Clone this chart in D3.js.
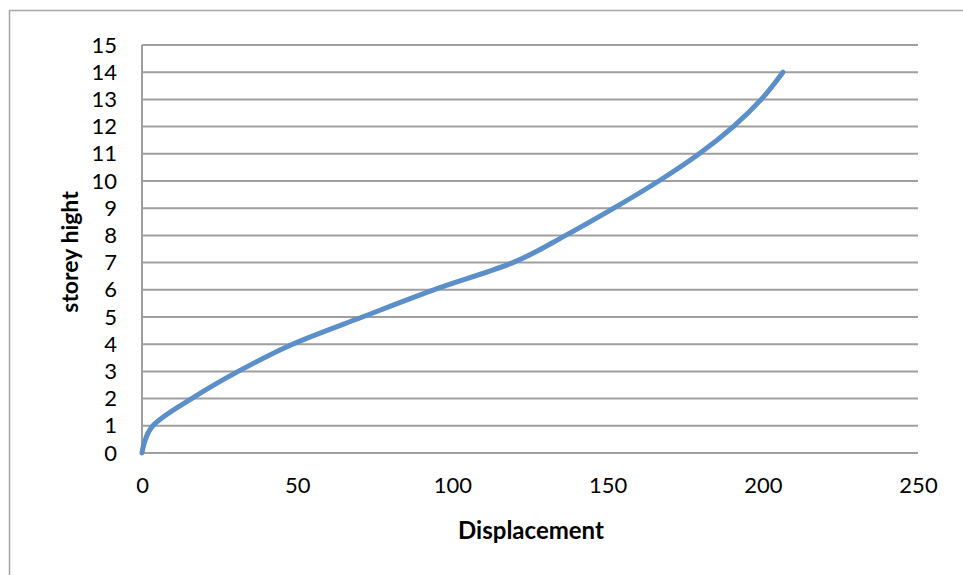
<!DOCTYPE html>
<html>
<head>
<meta charset="utf-8">
<script src="https://cdn.jsdelivr.net/npm/d3@7"></script>
<style>
html,body{margin:0;padding:0;background:#fff;}
svg{display:block;font-family:Lato,"Open Sans",sans-serif;}
</style>
</head>
<body>
<svg id="chart" width="963" height="575"></svg>
<script>
// Data
const storey = [0, 1, 2, 3, 4, 5, 6, 7, 8, 9, 10, 11, 12, 13, 14];
const displacement = [0, 3.5, 16, 31, 48.5, 71, 94, 119.5, 136.5, 152, 166.5, 179.5, 190.5, 199.5, 206.5];
const xTicks = [0, 50, 100, 150, 200, 250];
const yTicks = [0, 1, 2, 3, 4, 5, 6, 7, 8, 9, 10, 11, 12, 13, 14, 15];
const xTitle = "Displacement";
const yTitle = "storey hight";

const svg = d3.select("#chart");
const plotLeft = 142, plotRight = 918, plotTop = 45, plotBottom = 453;

// outer chart border (only left and top visible in the cropped picture)
svg.append("rect")
  .attr("x", 9.5).attr("y", 10.5)
  .attr("width", 1000).attr("height", 1000)
  .attr("fill", "none").attr("stroke", "#a6a6a6").attr("stroke-width", 1.5);

const x = d3.scaleLinear().domain([0, 250]).range([plotLeft, plotRight]);
const y = d3.scaleLinear().domain([0, 15]).range([plotBottom, plotTop]);

// gridlines
svg.append("g").selectAll("line").data(yTicks).join("line")
  .attr("x1", plotLeft).attr("x2", plotRight)
  .attr("y1", d => y(d)).attr("y2", d => y(d))
  .attr("stroke", "#9f9f9f").attr("stroke-width", 2);

// left axis line
svg.append("line")
  .attr("x1", plotLeft).attr("x2", plotLeft).attr("y1", plotTop).attr("y2", plotBottom)
  .attr("stroke", "#9f9f9f").attr("stroke-width", 2);

// y axis labels
const yAxis = d3.axisLeft(y).tickValues(yTicks).tickSize(0).tickPadding(25).tickFormat(d3.format("d"));
const gy = svg.append("g").attr("transform", `translate(${plotLeft},0)`).call(yAxis);
gy.select(".domain").remove();
gy.selectAll("text").attr("font-size", 22).attr("font-family", "Lato").attr("fill", "#000");

// x axis labels
const xAxis = d3.axisBottom(x).tickValues(xTicks).tickSize(0).tickPadding(24).tickFormat(d3.format("d"));
const gx = svg.append("g").attr("transform", `translate(0,${plotBottom})`).call(xAxis);
gx.select(".domain").remove();
gx.selectAll("text").attr("font-size", 22).attr("font-family", "Lato").attr("fill", "#000");

// line
const pts = storey.map((s, i) => [displacement[i], s]);
const line = d3.line().x(d => x(d[0])).y(d => y(d[1])).curve(d3.curveCardinal.tension(0));
svg.append("path").datum(pts)
  .attr("d", line)
  .attr("fill", "none").attr("stroke", "#5b8fca").attr("stroke-width", 5)
  .attr("stroke-linecap", "round").attr("stroke-linejoin", "round");

// titles
svg.append("text").attr("x", 531).attr("y", 539)
  .attr("text-anchor", "middle").attr("font-size", 24).attr("font-weight", "bold")
  .attr("font-family", "Lato").text(xTitle);
svg.append("text")
  .attr("transform", "translate(78,252) rotate(-90)")
  .attr("text-anchor", "middle").attr("font-size", 23).attr("font-weight", "bold")
  .attr("font-family", "Lato").text(yTitle);
</script>
</body>
</html>
